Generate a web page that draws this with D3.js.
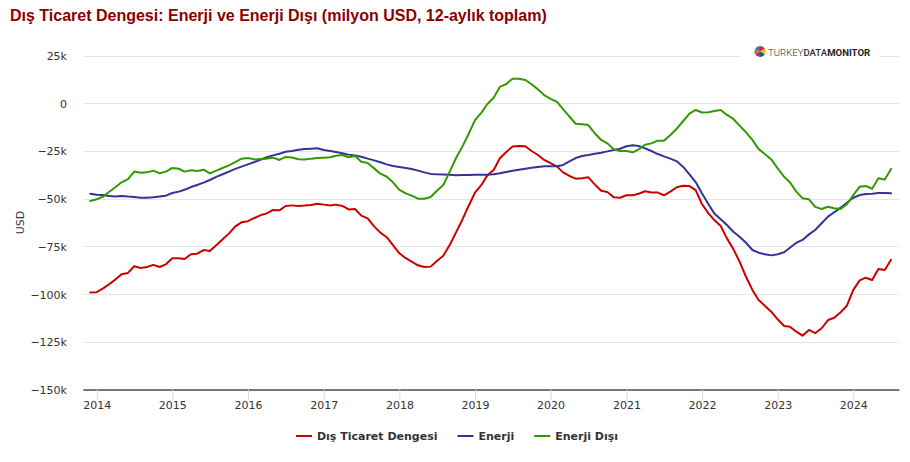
<!DOCTYPE html>
<html>
<head>
<meta charset="utf-8">
<script src="https://cdn.jsdelivr.net/npm/d3@7"></script>
<style>
  html, body { margin: 0; padding: 0; background: #fff; }
  svg { display: block; }
</style>
</head>
<body>
<svg id="chart" width="910" height="462"></svg>
<script>
// ---- Data (million USD, 12-month rolling sum), monthly from Dec 2013 to Jul 2024 ----
const startYear = 2013, startMonth = 11; // December 2013 (0-based month)
const seriesNames = ["Dış Ticaret Dengesi", "Enerji", "Enerji Dışı"];
const seriesColors = ["#cc0000", "#333399", "#339900"];

const disTicaret = [
 -99100,-99000,-97000,-94900,-92400,-89600,-88900,-85400,-86300,-85800,-84700,-85800,-84400,
 -81200,-81200,-81600,-79100,-78800,-76900,-77400,-74400,-71300,-68300,-64500,-62400,
 -61800,-60100,-58700,-57700,-55900,-56100,-53800,-53500,-53800,-53600,-53300,-52600,
 -53100,-53600,-53100,-53800,-55600,-55400,-58900,-60300,-64500,-67800,-70200,-74300,
 -78600,-81200,-83000,-84900,-85800,-85600,-82700,-79900,-74300,-67800,-61000,-53800,
 -46800,-42800,-37900,-35000,-28800,-25500,-22700,-22400,-22500,-25000,-27100,-29700,
 -31400,-33200,-36200,-38100,-39500,-39300,-38800,-42500,-45800,-46500,-49300,-49500,
 -48200,-48200,-47400,-46100,-46800,-46800,-48200,-46300,-44000,-43200,-43400,-45500,
 -52900,-57700,-61200,-64300,-70800,-76400,-83000,-90900,-97800,-103100,-106200,-109200,
 -113200,-116700,-117100,-119700,-121800,-118800,-120500,-117900,-113600,-112400,-109500,-106100,
 -97800,-92800,-91400,-92600,-86800,-87400,-82000
];
const enerji = [
 -47400,-47900,-48100,-48600,-48800,-48600,-48900,-49100,-49500,-49500,-49300,-48900,-48400,
 -47000,-46300,-45300,-43900,-42800,-41600,-40200,-38600,-37200,-35800,-34400,-33200,
 -32000,-30800,-29600,-28300,-27300,-26400,-25400,-25000,-24300,-24000,-23800,-23600,
 -24500,-25000,-25500,-26200,-26900,-27300,-28000,-29000,-29900,-30900,-32000,-32900,
 -33400,-33900,-34400,-35300,-36200,-37000,-37200,-37300,-37400,-37700,-37600,-37600,
 -37400,-37400,-37400,-37200,-36700,-36000,-35300,-34800,-34300,-33800,-33400,-33000,
 -33000,-33000,-32300,-30400,-28700,-27600,-27100,-26400,-25900,-25200,-24500,-23800,
 -22500,-22000,-22400,-23600,-25000,-26600,-27800,-29000,-30400,-33200,-37300,-41300,
 -47300,-52900,-57700,-60800,-63800,-67300,-69900,-73100,-76900,-78300,-79100,-79700,
 -79100,-78100,-75700,-73100,-71600,-68700,-66400,-62900,-59400,-57100,-54700,-52100,
 -49500,-48100,-47500,-47400,-47000,-47000,-47200
];
const enerjiDisi = [
 -51200,-50300,-48900,-46500,-44000,-41400,-39700,-35800,-36400,-36200,-35300,-36700,-35800,
 -33900,-34300,-35800,-35100,-35500,-34800,-36700,-35300,-33900,-32500,-30800,-29000,
 -28700,-29400,-29200,-29000,-28500,-29700,-28100,-28400,-29300,-29500,-29000,-28700,
 -28500,-28300,-27500,-27100,-28300,-27600,-30600,-31300,-34100,-36900,-38500,-41400,
 -45400,-47200,-48400,-50000,-50000,-49100,-45800,-42800,-35800,-28800,-22700,-16100,
 -8800,-4900,-500,2900,8600,10100,12900,12900,12200,10000,7300,4300,
 2300,700,-3100,-7000,-10700,-11000,-11400,-15700,-19200,-21000,-24100,-25000,
 -25000,-25700,-24100,-21700,-21000,-19600,-19600,-16600,-13300,-9400,-5400,-3500,
 -4800,-4700,-4000,-3500,-6100,-8200,-11700,-15200,-19200,-24000,-26700,-29400,
 -34100,-38500,-41400,-46300,-49800,-50300,-54300,-55400,-54200,-55000,-55400,-52900,
 -48100,-43700,-43300,-44800,-39300,-40000,-34400
];
const yTicks = [25000, 0, -25000, -50000, -75000, -100000, -125000, -150000];
const xTickYears = [2014,2015,2016,2017,2018,2019,2020,2021,2022,2023,2024];
const titleText = "Dış Ticaret Dengesi: Enerji ve Enerji Dışı (milyon USD, 12-aylık toplam)";
const yAxisTitle = "USD";

// ---- Layout ----
const svg = d3.select("#chart");
const plotLeft = 83, plotRight = 899, plotTop = 55.6, plotBottom = 389.5;
const axisFont = "'DejaVu Sans', 'Lucida Grande', sans-serif";

const dates = disTicaret.map((_, i) => new Date(Date.UTC(startYear, startMonth + i, 1)));

// Time scale calibrated on year ticks, then domain widened to the plot edges
const x = d3.scaleUtc()
  .domain([new Date(Date.UTC(2014,0,1)), new Date(Date.UTC(2024,0,1))])
  .range([96.7, 853.3]);
x.domain([x.invert(plotLeft), x.invert(plotRight)]).range([plotLeft, plotRight]);

const y = d3.scaleLinear().domain([-150000, 25000]).range([plotBottom, plotTop]);

// Title
svg.append("text")
  .attr("x", 10).attr("y", 21)
  .attr("font-family", "'Liberation Sans', Arial, sans-serif")
  .attr("font-size", 16).attr("font-weight", "bold")
  .attr("fill", "#8b0000")
  .text(titleText);

// Grid lines
svg.append("g").selectAll("line")
  .data(yTicks)
  .join("line")
  .attr("x1", plotLeft).attr("x2", plotRight)
  .attr("y1", d => Math.round(y(d)) + 0.5).attr("y2", d => Math.round(y(d)) + 0.5)
  .attr("stroke", "#e6e6e6").attr("stroke-width", 1);

// Y axis labels
const fmtK = v => (v < 0 ? "\u2212" : "") + Math.abs(v / 1000) + (v === 0 ? "" : "k");
const yAxis = d3.axisLeft(y).tickValues(yTicks).tickFormat(fmtK).tickSize(0).tickPadding(0);
const gy = svg.append("g").attr("transform", "translate(67,0)").call(yAxis);
gy.select(".domain").remove();
gy.selectAll("text")
  .attr("font-family", axisFont).attr("font-size", 11).attr("fill", "#333")
  .attr("dy", "0.36em");

// Y axis title
svg.append("text")
  .attr("transform", `translate(24,${(plotTop + plotBottom) / 2}) rotate(-90)`)
  .attr("text-anchor", "middle")
  .attr("font-family", axisFont).attr("font-size", 11).attr("fill", "#333")
  .text(yAxisTitle);

// X axis
const xAxis = d3.axisBottom(x)
  .tickValues(xTickYears.map(yr => new Date(Date.UTC(yr, 0, 1))))
  .tickFormat(d3.utcFormat("%Y"))
  .tickSize(10).tickSizeOuter(0).tickPadding(2);
const gx = svg.append("g").attr("transform", `translate(0,${Math.round(plotBottom) - 0.5})`).call(xAxis);
gx.select(".domain").attr("stroke", "#000").attr("stroke-width", 1.2);
gx.selectAll(".tick line").attr("stroke", "#ccd6eb");
gx.selectAll(".tick text")
  .attr("font-family", axisFont).attr("font-size", 11).attr("fill", "#333");

// Lines
const allSeries = [disTicaret, enerji, enerjiDisi];
const line = d3.line()
  .x((d, i) => x(dates[i]))
  .y(d => y(d));
const gl = svg.append("g");
allSeries.forEach((s, k) => {
  gl.append("path")
    .datum(s)
    .attr("d", line)
    .attr("fill", "none")
    .attr("stroke", seriesColors[k])
    .attr("stroke-width", 2)
    .attr("stroke-linejoin", "round")
    .attr("stroke-linecap", "round");
});

// Logo (with white backing over grid line)
const logo = svg.append("g");
logo.append("rect").attr("x", 741).attr("y", 43).attr("width", 139).attr("height", 17).attr("fill", "#fff");
const pieData = d3.pie().sort(null)([1, 1, 1, 1, 1, 1]);
const pieColors = ["#d62728", "#f2b705", "#2a4d9b", "#7b3f98", "#e65c2a", "#2c7bb6"];
const arc = d3.arc().innerRadius(0).outerRadius(5.5);
logo.append("g").attr("transform", "translate(760,51.5)")
  .selectAll("path").data(pieData).join("path")
  .attr("d", arc).attr("fill", (d, i) => pieColors[i]);
const logoText = logo.append("text")
  .attr("x", 768).attr("y", 55.5)
  .attr("font-family", "Roboto, 'Liberation Sans', sans-serif")
  .attr("font-size", 9.6).attr("fill", "#333");
logoText.append("tspan").attr("font-weight", 300).text("TURKEY");
logoText.append("tspan").attr("font-weight", 500).text("DATA");
logoText.append("tspan").attr("font-weight", 700).attr("fill", "#222").text("MONITOR");

// Legend
const legend = svg.append("g");
let lx = 0;
const items = [];
seriesNames.forEach((name, k) => {
  const g = legend.append("g");
  g.append("line").attr("x1", 0).attr("x2", 16).attr("y1", 0).attr("y2", 0)
    .attr("stroke", seriesColors[k]).attr("stroke-width", 2);
  const t = g.append("text").attr("x", 21).attr("y", 4)
    .attr("font-family", axisFont).attr("font-size", 11).attr("font-weight", "bold")
    .attr("fill", "#333").text(name);
  const w = 21 + t.node().getComputedTextLength();
  items.push({ g, w });
});
let total = items.reduce((a, b) => a + b.w, 0) + 20 * (items.length - 1);
let cx = 457 - total / 2;
items.forEach(it => {
  it.g.attr("transform", `translate(${cx},436)`);
  cx += it.w + 20;
});
</script>
</body>
</html>
